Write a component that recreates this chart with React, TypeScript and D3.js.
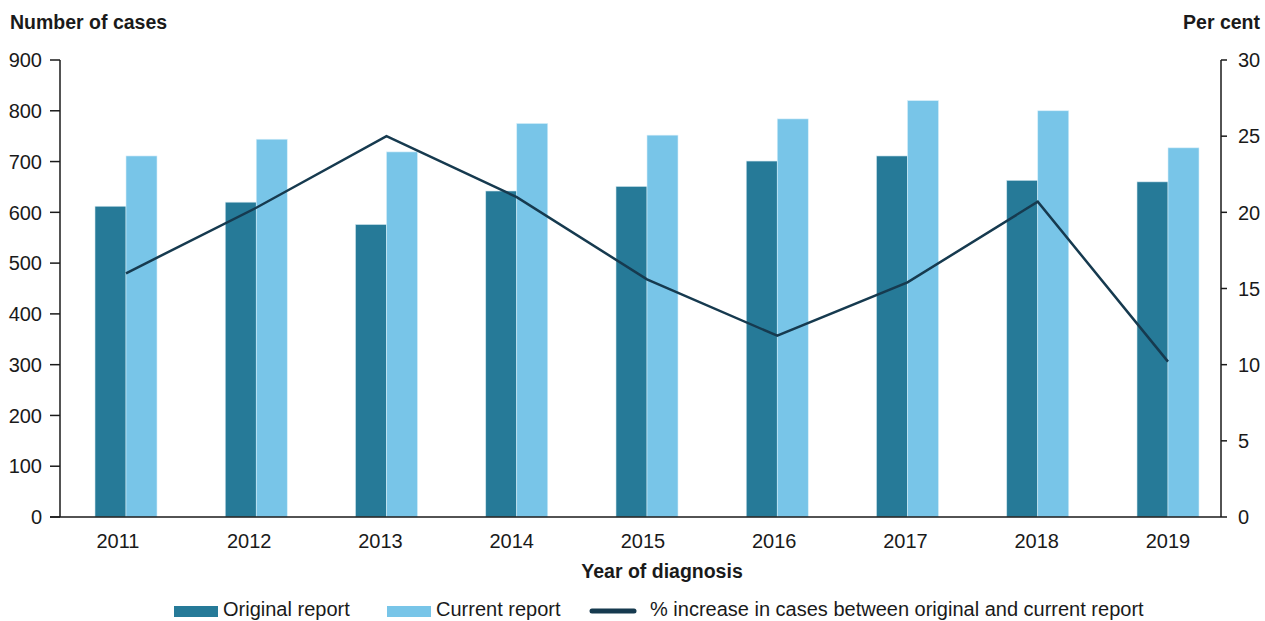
import React from "react";
import * as d3 from "d3";

const years = ["2011", "2012", "2013", "2014", "2015", "2016", "2017", "2018", "2019"];
const originalReport = [612, 620, 576, 642, 651, 701, 711, 663, 660];
const currentReport = [711, 744, 719, 775, 752, 784, 820, 800, 727];
const pctIncrease = [16.0, 20.3, 25.0, 21.0, 15.6, 11.9, 15.4, 20.7, 10.2];
const leftTicks = [0, 100, 200, 300, 400, 500, 600, 700, 800, 900];
const rightTicks = [0, 5, 10, 15, 20, 25, 30];

const W = 1265;
const H = 621;
const FONT = "'Liberation Sans', Arial, Helvetica, sans-serif";
const C_ORIG = "#267a98";
const C_CURR = "#78c5e8";
const C_LINE = "#163a4f";
const C_TEXT = "#1a1a1a";
const FS = 20;

export default function App() {
  const left = 60;
  const right = 1221;
  const top = 60;
  const bottom = 517;

  const yL = d3.scaleLinear().domain([0, 900]).range([bottom, top]);
  const yR = d3.scaleLinear().domain([0, 30]).range([bottom, top]);
  const x = d3.scalePoint<string>().domain(years).range([126, 1168]);
  const xLabel = d3.scalePoint<string>().domain(years).range([118, 1168]);
  const barW = 31;

  const line = d3
    .line<number>()
    .x((_, i) => x(years[i]) as number)
    .y((d) => yR(d));

  return (
    <svg width={W} height={H} style={{ position: "absolute", left: 0, top: 0, background: "#fff" }} fontFamily={FONT}>
      <rect x={0} y={0} width={W} height={H} fill="#fff" />
      {/* titles */}
      <text x={10} y={29} fontSize={19.5} fontWeight="bold" fill={C_TEXT}>Number of cases</text>
      <text x={1260} y={29} fontSize={19.5} fontWeight="bold" fill={C_TEXT} textAnchor="end">Per cent</text>

      {/* bars */}
      {years.map((yr, i) => {
        const cx = x(yr) as number;
        return (
          <g key={yr}>
            <rect x={cx - barW} y={yL(originalReport[i])} width={barW} height={bottom - yL(originalReport[i])} fill={C_ORIG} stroke="#cfe6ef" strokeWidth={0.6} />
            <rect x={cx} y={yL(currentReport[i])} width={barW} height={bottom - yL(currentReport[i])} fill={C_CURR} stroke="#d6eef9" strokeWidth={0.6} />
          </g>
        );
      })}

      {/* line */}
      <path d={line(pctIncrease) || ""} fill="none" stroke={C_LINE} strokeWidth={2.5} strokeLinejoin="miter" />

      {/* left axis */}
      <line x1={left} x2={left} y1={top} y2={bottom} stroke={C_TEXT} strokeWidth={1.5} />
      {leftTicks.map((t) => (
        <g key={"l" + t}>
          <line x1={left - 10} x2={left} y1={yL(t)} y2={yL(t)} stroke={C_TEXT} strokeWidth={1.5} />
          <text x={42} y={yL(t)} dy="0.36em" fontSize={FS} textAnchor="end" fill={C_TEXT}>{t}</text>
        </g>
      ))}

      {/* right axis */}
      <line x1={right} x2={right} y1={top} y2={bottom} stroke={C_TEXT} strokeWidth={1.5} />
      {rightTicks.map((t) => (
        <g key={"r" + t}>
          <line x1={right} x2={right + 6} y1={yR(t)} y2={yR(t)} stroke={C_TEXT} strokeWidth={1.5} />
          <text x={1238} y={yR(t)} dy="0.36em" fontSize={FS} textAnchor="start" fill={C_TEXT}>{t}</text>
        </g>
      ))}

      {/* x axis */}
      <line x1={left - 10} x2={right} y1={bottom} y2={bottom} stroke={C_TEXT} strokeWidth={1.5} />
      {years.map((yr) => (
        <text key={"x" + yr} x={xLabel(yr) as number} y={548} fontSize={FS} textAnchor="middle" fill={C_TEXT}>{yr}</text>
      ))}
      <text x={662} y={578} fontSize={19.5} fontWeight="bold" textAnchor="middle" fill={C_TEXT}>Year of diagnosis</text>

      {/* legend */}
      <rect x={174} y={606} width={44} height={11} fill={C_ORIG} />
      <text x={223} y={616} fontSize={FS} fill={C_TEXT}>Original report</text>
      <rect x={387} y={606} width={44} height={11} fill={C_CURR} />
      <text x={436} y={616} fontSize={FS} fill={C_TEXT}>Current report</text>
      <line x1={592} x2={634} y1={611} y2={611} stroke={C_LINE} strokeWidth={5} strokeLinecap="round" />
      <text x={650} y={616} fontSize={FS} fill={C_TEXT}>% increase in cases between original and current report</text>
    </svg>
  );
}
